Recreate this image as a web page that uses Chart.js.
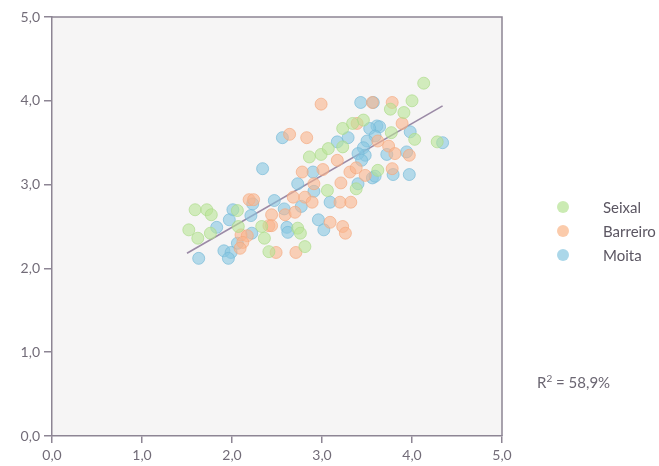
<!DOCTYPE html>
<html>
<head>
<meta charset="utf-8">
<script src="https://cdn.jsdelivr.net/npm/chart.js@4.4.0/dist/chart.umd.min.js"></script>
<style>
  html, body { margin: 0; padding: 0; background: #fff; }
  #wrap { position: relative; width: 659px; height: 466px; }
  #chart { position: absolute; left: 0; top: 0; }
  .item { position: absolute; left: 556px; height: 16px; font: 15px Lato, sans-serif; color: #5b5662; }
  .item i { position: absolute; left: 1px; top: 1px; width: 12px; height: 12px; border-radius: 50%; }
  .item span { position: absolute; left: 47px; top: -2px; white-space: nowrap; }
  #r2 { position: absolute; left: 537px; top: 372px; font: 15px Lato, sans-serif; color: #6b6672; white-space: nowrap; }
  #r2 sup { font-size: 10px; }
</style>
</head>
<body>
<div id="wrap">
  <canvas id="chart" width="659" height="466"></canvas>
  <div class="item" style="top:200px"><i style="background:rgba(190,230,160,0.8)"></i><span>Seixal</span></div>
  <div class="item" style="top:224px"><i style="background:rgba(250,190,150,0.8)"></i><span>Barreiro</span></div>
  <div class="item" style="top:248px"><i style="background:rgba(150,205,228,0.8)"></i><span>Moita</span></div>
  <div id="r2">R<sup>2</sup> = 58,9%</div>
</div>
<script>
// values
const seixalX = [4.13, 4.00, 3.76, 3.91, 3.46, 3.23, 3.77, 4.03, 4.28, 3.34, 2.86, 2.99, 3.07, 3.23, 3.62, 3.38, 3.06,
                 1.59, 1.72, 1.77, 2.06, 1.52, 1.62, 1.76, 2.07, 2.33, 2.36, 2.41, 2.73, 2.76, 2.81];
const seixalY = [4.21, 4.00, 3.90, 3.86, 3.77, 3.67, 3.62, 3.54, 3.51, 3.73, 3.33, 3.36, 3.43, 3.45, 3.17, 2.95, 2.93,
                 2.70, 2.70, 2.64, 2.69, 2.46, 2.36, 2.42, 2.50, 2.50, 2.36, 2.20, 2.48, 2.42, 2.26];

const barreiroX = [2.99, 2.64, 2.83, 3.56, 3.78, 3.39, 3.89, 3.74, 3.81, 3.97, 3.17, 2.78, 3.01, 3.31, 3.38, 3.48, 3.78,
                   3.21, 2.91, 2.19, 2.24, 2.68, 2.81, 2.89, 3.20, 3.32, 2.44, 2.59, 2.70, 2.41, 2.10, 2.17, 2.12,
                   2.09, 2.49, 2.71, 3.09, 3.23, 3.26, 3.62, 2.44];
const barreiroY = [3.96, 3.60, 3.56, 3.98, 3.98, 3.73, 3.73, 3.46, 3.37, 3.35, 3.29, 3.15, 3.18, 3.15, 3.20, 3.11, 3.19,
                   3.02, 3.01, 2.82, 2.82, 2.85, 2.85, 2.79, 2.79, 2.79, 2.64, 2.64, 2.67, 2.51, 2.40, 2.39, 2.31,
                   2.24, 2.19, 2.19, 2.55, 2.50, 2.42, 3.52, 2.51];

const moitaX = [3.43, 3.57, 2.56, 2.34, 2.90, 2.73, 3.29, 3.17, 3.61, 3.64, 3.53, 3.59, 3.50, 3.98, 4.34, 3.46, 3.48,
                3.40, 3.44, 3.72, 3.94, 3.56, 3.79, 3.97, 3.40, 2.91, 3.09, 2.47, 2.23, 2.58, 2.77, 2.01, 1.97,
                2.21, 1.83, 2.22, 2.61, 2.62, 2.96, 3.02, 2.06, 1.91, 1.99, 1.96, 1.63, 3.59];
const moitaY = [3.98, 3.98, 3.56, 3.19, 3.15, 3.01, 3.56, 3.51, 3.70, 3.69, 3.67, 3.58, 3.52, 3.63, 3.50, 3.44, 3.35,
                3.37, 3.29, 3.36, 3.39, 3.08, 3.12, 3.12, 3.01, 2.92, 2.79, 2.81, 2.77, 2.71, 2.74, 2.70, 2.58,
                2.63, 2.49, 2.42, 2.49, 2.43, 2.58, 2.46, 2.30, 2.21, 2.19, 2.12, 2.12, 3.10];

// fitted line ends
const fitX = [1.50, 4.34];
const fitY = [2.18, 3.94];

const axisTicks = [0, 1, 2, 3, 4, 5];

const pairs = (xs, ys) => xs.map((x, i) => ({ x: x, y: ys[i] }));

const axisColor = '#8d8594';
const labelColor = '#726c78';

// light plot background + top/right frame
const frame = {
  id: 'frame',
  beforeDraw(chart) {
    const a = chart.chartArea, ctx = chart.ctx;
    ctx.save();
    ctx.fillStyle = '#f6f5f5';
    ctx.fillRect(a.left, a.top, a.right - a.left, a.bottom - a.top);
    ctx.restore();
  },
  afterDatasetsDraw(chart) {
    const a = chart.chartArea, ctx = chart.ctx;
    ctx.save();
    ctx.strokeStyle = axisColor;
    ctx.lineWidth = 1.5;
    ctx.beginPath();
    ctx.moveTo(a.left, a.top);
    ctx.lineTo(a.right, a.top);
    ctx.lineTo(a.right, a.bottom);
    ctx.stroke();
    ctx.restore();
  }
};

function dots(label, xs, ys, fill, edge) {
  return {
    type: 'scatter', label: label, data: pairs(xs, ys),
    backgroundColor: fill, borderColor: edge, borderWidth: 1,
    pointRadius: 6, pointHoverRadius: 6
  };
}

new Chart(document.getElementById('chart'), {
  data: {
    datasets: [
      dots('Seixal', seixalX, seixalY, 'rgba(185,228,150,0.6)', 'rgba(170,218,135,0.65)'),
      dots('Barreiro', barreiroX, barreiroY, 'rgba(250,180,140,0.6)', 'rgba(245,168,125,0.65)'),
      dots('Moita', moitaX, moitaY, 'rgba(135,198,225,0.6)', 'rgba(115,185,215,0.65)'),
      {
        type: 'line', label: 'fit', data: pairs(fitX, fitY),
        borderColor: '#9b8aa6', borderWidth: 1.6, pointRadius: 0, fill: false
      }
    ]
  },
  options: {
    responsive: false,
    animation: false,
    layout: { padding: { top: 17, right: 157, left: 0, bottom: 0 } },
    plugins: { legend: { display: false }, tooltip: { enabled: false } },
    scales: {
      x: {
        type: 'linear', min: 0, max: 5,
        afterBuildTicks: s => { s.ticks = axisTicks.map(v => ({ value: v })); },
        afterFit: s => { s.height = 30; },
        grid: { drawOnChartArea: false, drawTicks: true, tickLength: 7, color: axisColor, lineWidth: 1.5 },
        border: { display: true, color: axisColor, width: 1.5 },
        ticks: { color: labelColor, font: { family: 'Lato', size: 14 }, padding: 4,
                 callback: v => v.toFixed(1).replace('.', ','), maxRotation: 0 }
      },
      y: {
        type: 'linear', min: 0, max: 5,
        afterBuildTicks: s => { s.ticks = axisTicks.map(v => ({ value: v })); },
        afterFit: s => { s.width = 52; },
        grid: { drawOnChartArea: false, drawTicks: true, tickLength: 8, color: axisColor, lineWidth: 1.5 },
        border: { display: true, color: axisColor, width: 1.5 },
        ticks: { color: labelColor, font: { family: 'Lato', size: 14 }, padding: 4,
                 callback: v => v.toFixed(1).replace('.', ',') }
      }
    }
  },
  plugins: [frame]
});
</script>
</body>
</html>
